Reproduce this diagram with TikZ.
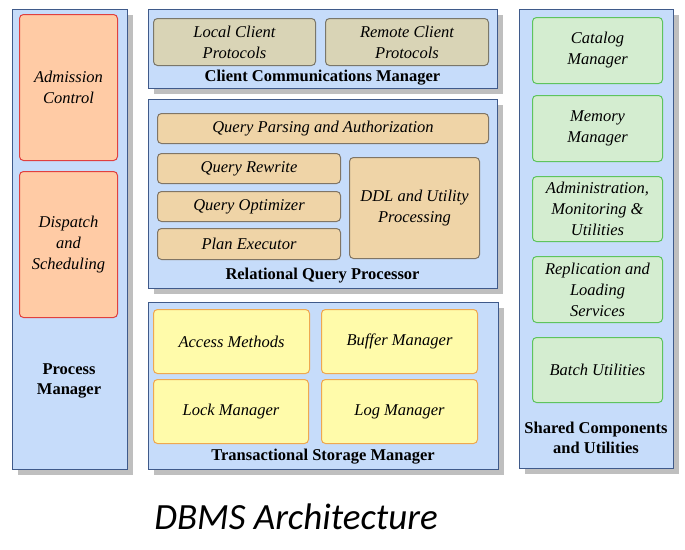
\documentclass[tikz,border=0pt]{standalone}
\usepackage{fontspec}
\setmainfont{Liberation Serif}
\newfontfamily\titlefont{Carlito}
\usetikzlibrary{shadows}
\definecolor{outerfill}{HTML}{C6DCFA}
\definecolor{outerdraw}{HTML}{3F5A8A}
\definecolor{orfill}{HTML}{FFCBA5}
\definecolor{ordraw}{HTML}{E0403F}
\definecolor{khfill}{HTML}{D9D4B6}
\definecolor{khdraw}{HTML}{7A776A}
\definecolor{tanfill}{HTML}{EFD4A7}
\definecolor{tandraw}{HTML}{807565}
\definecolor{yefill}{HTML}{FFFBAA}
\definecolor{yedraw}{HTML}{EFA850}
\definecolor{grfill}{HTML}{D4EDD0}
\definecolor{grdraw}{HTML}{5EC45E}
\tikzset{
  outerbox/.style={draw=outerdraw, fill=outerfill, line width=1pt, anchor=north west, inner sep=0pt,
    drop shadow={shadow xshift=5pt, shadow yshift=-5pt, fill=black!25, opacity=1}},
  inbox/.style={rounded corners=4pt, line width=1pt, anchor=north west, inner sep=0pt, align=center,
    font=\fontsize{16.5}{21}\selectfont\itshape},
  orbox/.style={inbox, draw=ordraw, fill=orfill},
  khbox/.style={inbox, draw=khdraw, fill=khfill},
  tanbox/.style={inbox, draw=tandraw, fill=tanfill},
  yebox/.style={inbox, draw=yedraw, fill=yefill},
  grbox/.style={inbox, draw=grdraw, fill=grfill},
  lbl/.style={font=\fontsize{16.5}{20}\selectfont\bfseries, align=center, inner sep=0pt}
}
\begin{document}
\begin{tikzpicture}[x=1pt,y=-1pt]
\useasboundingbox (0,0) rectangle (685,549);
% Process manager
\node[outerbox, minimum width=115pt, minimum height=460pt] (pm) at (12,9) {};
\node[orbox, minimum width=98pt, minimum height=146pt] (adm) at (19,14) {Admission\\Control};
\node[orbox, minimum width=98pt, minimum height=146pt] (disp) at (19,171) {Dispatch\\and\\Scheduling};
\node[lbl] (pml) at (69,381) {Process\\Manager};
% Client communications
\node[outerbox, minimum width=349pt, minimum height=79pt] (ccm) at (148,9) {};
\node[khbox, minimum width=162pt, minimum height=47pt] (lcp) at (153,18) {Local Client\\Protocols};
\node[khbox, minimum width=163pt, minimum height=47pt] (rcp) at (325,18) {Remote Client\\Protocols};
\node[lbl] (ccml) at (322.5,78) {Client Communications Manager};
% Relational query processor
\node[outerbox, minimum width=349pt, minimum height=189pt] (rqp) at (148,99) {};
\node[tanbox, minimum width=331pt, minimum height=30pt] (qpa) at (157,113) {Query Parsing and Authorization};
\node[tanbox, minimum width=183pt, minimum height=30pt] (qrw) at (157,153) {Query Rewrite};
\node[tanbox, minimum width=183pt, minimum height=30pt] (qop) at (157,191) {Query Optimizer};
\node[tanbox, minimum width=183pt, minimum height=31pt] (pex) at (157,228) {Plan Executor};
\node[tanbox, minimum width=130pt, minimum height=101pt] (ddl) at (349,157) {DDL and Utility\\Processing};
\node[lbl] (rqpl) at (322.5,276) {Relational Query Processor};
% Transactional storage manager
\node[outerbox, minimum width=350pt, minimum height=167pt] (tsm) at (148,302) {};
\node[yebox, minimum width=156pt, minimum height=64pt] (am) at (153,309) {Access Methods};
\node[yebox, minimum width=156pt, minimum height=64pt] (bm) at (321,309) {Buffer Manager};
\node[yebox, minimum width=155pt, minimum height=64pt] (lm) at (153,379) {Lock Manager};
\node[yebox, minimum width=156pt, minimum height=64pt] (lgm) at (321,379) {Log Manager};
\node[lbl] (tsml) at (323,457) {Transactional Storage Manager};
% Shared components
\node[outerbox, minimum width=154pt, minimum height=459pt] (scu) at (519,9) {};
\node[grbox, minimum width=130pt, minimum height=66pt] (cat) at (532,17) {Catalog\\Manager};
\node[grbox, minimum width=130pt, minimum height=66pt] (mem) at (532,95) {Memory\\Manager};
\node[grbox, minimum width=130pt, minimum height=65pt] (adu) at (532,176) {Administration,\\Monitoring \&\\Utilities};
\node[grbox, minimum width=130pt, minimum height=66pt] (rep) at (532,256) {Replication and\\Loading\\Services};
\node[grbox, minimum width=130pt, minimum height=65pt] (bat) at (532,337) {Batch Utilities};
\node[lbl] (scul) at (596,438) {Shared Components\\and Utilities};
% Title
\node[font=\titlefont\itshape\fontsize{37}{40}\selectfont, inner sep=0pt] (title) at (296,517) {DBMS Architecture};
\end{tikzpicture}
\end{document}
